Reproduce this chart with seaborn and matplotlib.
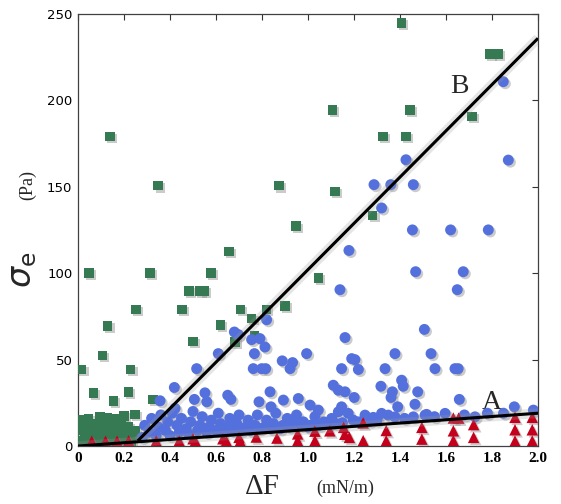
import numpy as np
import pandas as pd
import seaborn as sns
import matplotlib.pyplot as plt
import matplotlib.patheffects as pe

# green squares
sq_x = [1.407, 1.79, 1.826, 1.106, 1.443, 1.713, 1.325, 1.426, 0.874, 1.117, 1.281, 0.948,
        0.657, 0.577, 1.045, 0.139, 0.349, 0.048, 0.312, 0.483, 0.53, 0.55, 0.252, 0.451,
        0.707, 0.82, 0.9, 0.755, 0.129, 0.501, 0.106, 0.016, 0.229, 0.067, 0.219, 0.154,
        0.325, 0.009, 0.62, 0.767, 0.683,
        0.01, 0.01, 0.02, 0.03, 0.04, 0.05, 0.06, 0.07, 0.08, 0.09, 0.10, 0.11, 0.12, 0.13,
        0.14, 0.15, 0.16, 0.17, 0.18, 0.19, 0.20, 0.21, 0.22, 0.23, 0.24, 0.25, 0.045, 0.095,
        0.165, 0.2, 0.248, 0.125]
sq_y = [245, 227, 227, 194.6, 194.6, 190.7, 179.2, 179.2, 150.7, 147.4, 133.4, 127.2,
        112.6, 100.1, 97.2, 179.2, 150.7, 100.3, 100.3, 89.7, 89.7, 89.7, 79.1, 79.1,
        79.1, 79.1, 81, 73.9, 69.5, 60.6, 52.5, 44.3, 44.3, 30.8, 31.4, 26.2,
        27, 15, 70.2, 64, 60.2,
        3, 9, 14, 6, 2.5, 11, 4, 8, 13, 2.5, 6, 10, 15, 3,
        8, 12, 5, 2.5, 9, 14, 4, 7, 11, 2.5, 6, 9, 16, 17,
        16, 17.5, 18.3, 16.6]

# blue circles
ci_x = [1.849, 1.871, 1.426, 1.287, 1.36, 1.458, 1.32, 1.178, 1.454, 1.62, 1.784, 1.468,
        1.675, 1.139, 1.649,
        0.516, 0.419, 0.357, 0.506, 0.422,
        0.82, 0.68, 0.697, 0.755, 0.791, 0.813, 0.767, 0.61, 0.994, 0.888, 0.933, 0.762,
        0.799, 0.816, 0.922,
        0.552, 0.56, 0.651, 0.665, 0.835, 0.787, 0.839, 0.893, 0.958, 1.009,
        1.161, 1.506, 1.378, 1.19, 1.204, 1.146, 1.219, 1.335, 1.407, 1.414, 1.11, 1.132,
        1.161, 1.201, 1.317, 1.367, 1.361, 1.477, 1.465, 1.146, 1.132, 1.39, 1.045, 1.175,
        1.248, 1.32, 1.349, 1.378, 1.458, 1.509, 1.103, 1.197, 1.284,
        1.535, 1.552, 1.639, 1.653, 1.658, 1.897, 1.98, 1.596, 1.726, 1.516,
        0.28, 0.29, 0.31, 0.32, 0.34, 0.35, 0.36, 0.38, 0.39, 0.40, 0.41, 0.43, 0.44, 0.45,
        0.47, 0.48, 0.49, 0.50, 0.52, 0.53, 0.54, 0.56, 0.57, 0.58, 0.60, 0.61, 0.62, 0.63,
        0.65, 0.66, 0.67, 0.69, 0.70, 0.71, 0.73, 0.74, 0.75, 0.77, 0.78, 0.79, 0.81, 0.82,
        0.84, 0.85, 0.86, 0.88, 0.89, 0.91, 0.92, 0.94, 0.95, 0.97, 0.98, 1.00, 1.01, 1.03,
        1.05, 1.07, 1.09, 1.12, 1.15, 1.22, 1.27, 1.30, 1.42, 1.55, 1.68, 1.78, 1.85]
ci_y = [210.9, 165.5, 165.7, 151.3, 151.3, 151.3, 137.8, 113.2, 125.1, 125.1, 125.1, 100.9,
        100.9, 90.5, 90.5,
        44.8, 33.9, 26.2, 27, 21.8,
        73.1, 66, 64.5, 61.6, 62.2, 57.3, 53.5, 53.5, 53.5, 49.3, 48.3, 44.8,
        44.8, 44.8, 44.8,
        30.8, 25.6, 29.4, 27, 31.4, 25.6, 22.7, 26.6, 27.5, 23.7,
        62.8, 67.5, 53.5, 50.6, 50, 44.8, 44.3, 44.8, 38.1, 34.6, 35.2, 32.3,
        31.4, 28.1, 34.6, 31.4, 28.1, 31.4, 24.2, 22.7, 19.8, 22.7, 20.8, 18.9,
        17.9, 18.9, 17.9, 16.9, 16.9, 17.9, 16, 15, 16.6,
        53.5, 44.8, 44.8, 44.8, 27, 22.7, 20.8, 18.9, 16.9, 18.3,
        5, 12, 8, 16, 6, 11, 18, 9, 14, 6, 19, 12, 8, 16,
        10, 7, 14, 20, 9, 12, 17, 8, 11, 15, 9, 19, 13, 8,
        11, 16, 9, 13, 18, 9, 11, 15, 9, 12, 18, 10, 11, 15,
        10, 13, 19, 10, 12, 16, 11, 13, 18, 12, 14, 11, 12, 17,
        12, 14, 12.5, 13, 13.5, 14, 14.5, 15, 16, 17, 18, 19, 19]

# red triangles
tr_x = [0.06, 0.12, 0.17, 0.22, 0.34, 0.44, 0.50, 0.51, 0.63, 0.645, 0.70, 0.705, 0.775,
        0.865, 0.955, 0.955, 1.03, 1.03, 1.095, 1.155, 1.16, 1.18, 1.24, 1.24, 1.34, 1.34,
        1.495, 1.495, 1.632, 1.655, 1.632, 1.632, 1.72, 1.72, 1.9, 1.9, 1.9, 1.975, 1.975,
        1.975]
tr_y = [2.8, 2.8, 2.8, 3.0, 2.9, 3.0, 4.2, 2.9, 4.2, 2.9, 5.0, 2.8, 5.2,
        4.6, 7.0, 3.0, 8.6, 3.1, 8.8, 10.8, 6.8, 5.0, 13.4, 3.1, 9.0, 3.0,
        10.8, 4.0, 16.2, 16.2, 8.8, 3.1, 12.4, 5.0, 16.6, 9.4, 2.9, 16.6, 9.4,
        2.9]

# fitted lines
lineA_x = [0.0, 2.0]
lineA_y = [0.0, 19.0]
lineB_x = [0.26, 2.0]
lineB_y = [3.0, 236.0]

x_ticks = [0, 0.2, 0.4, 0.6, 0.8, 1.0, 1.2, 1.4, 1.6, 1.8, 2.0]
x_ticklabels = ["0", "0.2", "0.4", "0.6", "0.8", "1.0", "1.2", "1.4", "1.6", "1.8", "2.0"]
y_ticks = [0, 50, 100, 150, 200, 250]

sns.set_style("white")
serif = "Liberation Serif"

fig = plt.figure(figsize=(5.61, 5.04), dpi=100)
ax = fig.add_axes([0.139, 0.115, 0.820, 0.857])

shadow = [pe.SimplePatchShadow(offset=(1.5, -1.5), shadow_rgbFace="0.55", alpha=0.45), pe.Normal()]

df_sq = pd.DataFrame({"x": sq_x, "y": sq_y})
df_ci = pd.DataFrame({"x": ci_x, "y": ci_y})
df_tr = pd.DataFrame({"x": tr_x, "y": tr_y})

sns.scatterplot(data=df_sq, x="x", y="y", marker="s", s=48, color="#357a52",
                edgecolor="none", linewidth=0, ax=ax, zorder=3)
ax.collections[-1].set_path_effects(shadow)
sns.scatterplot(data=df_ci, x="x", y="y", marker="o", s=62, color="#5470dc",
                edgecolor="none", linewidth=0, ax=ax, zorder=4)
ax.collections[-1].set_path_effects(shadow)
sns.scatterplot(data=df_tr, x="x", y="y", marker="^", s=68, color="#c4001c",
                edgecolor="none", linewidth=0, ax=ax, zorder=5)
ax.collections[-1].set_path_effects(shadow)

for lx, ly in [(lineA_x, lineA_y), (lineB_x, lineB_y)]:
    ax.plot(lx, ly, color="0.6", lw=7, alpha=0.25, solid_capstyle="butt", zorder=5.5)
    ax.plot(lx, ly, color="black", lw=2.2, solid_capstyle="butt", zorder=6)

ax.text(1.66, 208, "B", fontsize=20, family=serif, ha="center", va="center")
ax.text(1.80, 25, "A", fontsize=20, family=serif, ha="center", va="center")

ax.set_xlim(0, 2.0)
ax.set_ylim(0, 250)
ax.set_xticks(x_ticks)
ax.set_xticklabels(x_ticklabels, family=serif, fontsize=11, fontweight="bold")
ax.set_yticks(y_ticks)
ax.set_yticklabels([str(v) for v in y_ticks], family="DejaVu Sans", fontsize=9.5)
ax.tick_params(direction="in", top=True, right=True, length=4, width=0.8, colors="0.2",
               labelcolor="black", pad=4)
for sp in ax.spines.values():
    sp.set_color("0.25")
    sp.set_linewidth(0.9)
ax.set_xlabel("")
ax.set_ylabel("")

fig.text(0.468, 0.034, "ΔF", fontsize=21, family=serif, ha="center", va="center")
fig.text(0.615, 0.032, "(mN/m)", fontsize=13, family=serif, ha="center", va="center")
fig.text(0.040, 0.465, r"$\sigma_{\rm e}$", fontsize=24, rotation=90, ha="center", va="center")
fig.text(0.050, 0.632, "(Pa)", fontsize=13, family=serif, rotation=90,
         ha="center", va="center")

fig.savefig("out.png", dpi=100)
